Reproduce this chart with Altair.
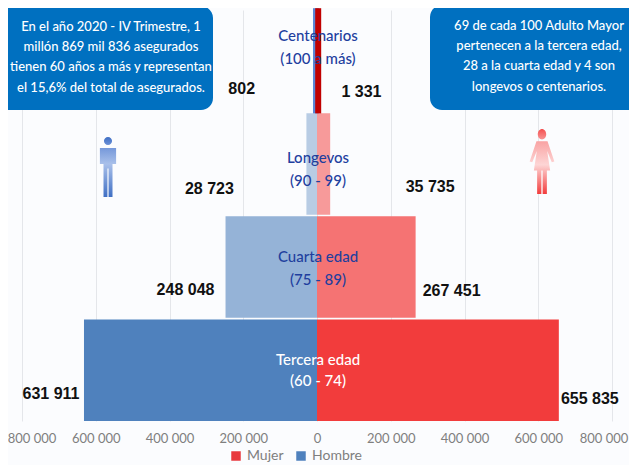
import altair as alt
import pandas as pd

groups = ["Centenarios", "Longevos", "Cuarta edad", "Tercera edad"]
ranges = ["(100 a más)", "(90 - 99)", "(75 - 89)", "(60 - 74)"]
hombre = [802, 28723, 248048, 631911]
mujer = [1331, 35735, 267451, 655835]
hombre_txt = ["802", "28 723", "248 048", "631 911"]
mujer_txt = ["1 331", "35 735", "267 451", "655 835"]
hombre_col = ["#5b86d6", "#b8cce4", "#95b3d7", "#4f81bd"]
mujer_col = ["#c00000", "#f79a9a", "#f57373", "#f23c3c"]
left_lines = ["En el año 2020 - IV Trimestre, 1", "millón 869 mil 836 asegurados",
              "tienen 60 años a más y representan", "el 15,6% del total de asegurados."]
right_lines = ["69 de cada 100 Adulto Mayor", "pertenecen a la tercera edad,",
               "28 a la cuarta edad y 4 son", "longevos o centenarios."]
ticks = [-800000, -600000, -400000, -200000, 0, 200000, 400000, 600000, 800000]
end_ticks = ["800 000", "800 000"]

XS = alt.Scale(domain=[-800000, 800000], nice=False, zero=False)
YS = alt.Scale(domain=groups, paddingInner=0.015, paddingOuter=0.0)
Y = alt.Y("g:N", scale=YS, axis=None, title=None)

OX, OY = 22, 10   # page position of the plot origin

axis_layer = alt.Chart(pd.DataFrame({"v": ticks})).mark_rule(opacity=0).encode(
    x=alt.X("v:Q", scale=XS, title=None, axis=alt.Axis(
        values=ticks, grid=True, gridColor="#e4e6ea", gridWidth=1, domain=False, ticks=False,
        labelFont="Lato", labelFontSize=13, labelColor="#7f7f7f", labelPadding=11, labelOverlap=False,
        labelExpr="abs(datum.value) == 800000 ? '' : replace(format(abs(datum.value), ','), ',', ' ')")),
)

def bars(vals, cols):
    return pd.DataFrame({"g": groups, "v": vals, "c": cols})

hb = alt.Chart(bars([-v for v in hombre], hombre_col))
mb = alt.Chart(bars(mujer, mujer_col))
enc = dict(x=alt.X("v:Q", scale=XS), x2=alt.X2(datum=0), y=Y,
           fill=alt.Fill("c:N", scale=None, legend=None))
big = alt.datum.g != groups[0]
hbar = hb.transform_filter(big).mark_bar().encode(**enc)
mbar = mb.transform_filter(big).mark_bar().encode(**enc)
# the smallest group is under one pixel wide: an outline keeps it visible, as in the source
hthin = hb.transform_filter(alt.datum.g == groups[0]).mark_bar(
    xOffset=-1.9, stroke=hombre_col[0], strokeWidth=3.6).encode(**enc)
mthin = mb.transform_filter(alt.datum.g == groups[0]).mark_bar(
    xOffset=1.9, stroke=mujer_col[0], strokeWidth=3.6).encode(**enc)

layers = [axis_layer, hbar, mbar, hthin, mthin]

# outermost tick labels, nudged inward so that they stay whole on the page
for v, t, dx in zip([-800000, 800000], end_ticks, [10, -8]):
    layers.append(
        alt.Chart(pd.DataFrame({"v": [v], "t": [t]}))
        .mark_text(font="Lato", fontSize=13, color="#7f7f7f", dx=dx)
        .encode(x=alt.X("v:Q", scale=XS), y=alt.value(439 - OY), text="t:N")
    )

# category labels
cat_dy = [[-25, -2], [-6, 17], [-10, 13], [-10, 11]]
cat_col = ["#1f3f9e", "#1f3f9e", "#1f3f9e", "#ffffff"]
for i, g in enumerate(groups):
    for txt, dy in zip([g, ranges[i]], cat_dy[i]):
        layers.append(
            alt.Chart(pd.DataFrame({"g": [g], "v": [0], "t": [txt]}))
            .mark_text(font="Lato", fontSize=15, fontWeight=500, color=cat_col[i], dy=dy, dx=1)
            .encode(x=alt.X("v:Q", scale=XS), y=Y, text="t:N")
        )

# value labels
h_off = [(-75, 28), (-97, 25), (-40, 23), (-33, 24)]
m_off = [(44, 31), (100, 23), (36, 24), (31, 29)]
for vals, txts, offs in [([-v for v in hombre], hombre_txt, h_off), (mujer, mujer_txt, m_off)]:
    for g, v, t, (dx, dy) in zip(groups, vals, txts, offs):
        layers.append(
            alt.Chart(pd.DataFrame({"g": [g], "v": [v], "t": [t]}))
            .mark_text(font="Liberation Sans", fontWeight="bold", fontSize=16, color="#111111", dx=dx, dy=dy)
            .encode(x=alt.X("v:Q", scale=XS), y=Y, text="t:N")
        )

# callout boxes
def box(x0, x1, y0, y1):
    return alt.Chart(pd.DataFrame({"a": [1]})).mark_rect(cornerRadius=12, color="#0070c0").encode(
        x=alt.value(x0 - OX), x2=alt.value(x1 - OX), y=alt.value(y0 - OY), y2=alt.value(y1 - OY))

layers.append(box(-20, 213, 6, 110))
layers.append(box(430, 660, 5, 110))

def box_text(lines, cx, y0):
    out = []
    for i, t in enumerate(lines):
        out.append(alt.Chart(pd.DataFrame({"t": [t]})).mark_text(
            font="Lato", fontSize=13, fontWeight=500, color="#ffffff").encode(
            x=alt.value(cx - OX), y=alt.value(y0 + i * 20.2 - OY), text="t:N"))
    return out

layers += box_text(left_lines, 111, 27)
layers += box_text(right_lines, 539, 26)

# person icons
male = ("M0,-1 A0.135,0.135 0 1 1 0,-0.73 A0.135,0.135 0 1 1 0,-1 Z "
        "M-0.27,-0.63 L0.27,-0.63 L0.27,-0.1 L0.15,-0.1 L0.15,1 L0.02,1 L0.02,0.05 L-0.02,0.05 "
        "L-0.02,1 L-0.15,1 L-0.15,-0.1 L-0.27,-0.1 Z")
female = ("M0,-1 A0.13,0.16 0 1 1 0,-0.68 A0.13,0.16 0 1 1 0,-1 Z "
          "M-0.17,-0.62 L0.17,-0.62 L0.38,0 L0.3,0.02 L0.16,-0.32 L0.25,0.28 L0.15,0.28 L0.15,1 "
          "L0.02,1 L0.02,0.28 L-0.02,0.28 L-0.02,1 L-0.15,1 L-0.15,0.28 L-0.25,0.28 L-0.16,-0.32 "
          "L-0.3,0.02 L-0.38,0 Z")

def icon(path, size, cx, cy, stops):
    grad = alt.Gradient(gradient="linear", x1=0, x2=0, y1=0, y2=1,
                        stops=[alt.GradientStop(offset=o, color=c) for o, c in stops])
    return alt.Chart(pd.DataFrame({"a": [1]})).mark_point(
        shape=path, filled=True, size=size, fill=grad, opacity=1, strokeWidth=0).encode(
        x=alt.value(cx - OX), y=alt.value(cy - OY))

layers.append(icon(male, 3600, 108, 167, [(0, "#3f6fc4"), (0.15, "#6f93d8"), (0.45, "#a9c0ea"), (1, "#3f6fc4")]))
layers.append(icon(female, 4225, 542, 161.5, [(0, "#f45050"), (0.2, "#f9a5a5"), (0.55, "#fdd5d5"), (1, "#f23c3c")]))

# legend
leg = alt.Chart(pd.DataFrame({"s": ["Mujer", "Hombre"], "v": [0, 0]})).mark_point(
    opacity=0, filled=True).encode(
    x=alt.X("v:Q", scale=XS),
    color=alt.Color("s:N", sort=["Mujer", "Hombre"],
                    scale=alt.Scale(domain=["Mujer", "Hombre"], range=["#e8383d", "#4f81bd"]),
                    legend=alt.Legend(orient="none", direction="horizontal", legendX=207, legendY=439,
                                      title=None, symbolType="square", symbolSize=90, symbolOpacity=1,
                                      labelFont="Lato", labelFontSize=14, labelColor="#7f7f7f",
                                      columnPadding=10, labelOffset=4)),
)
layers.append(leg)

chart = alt.layer(*layers).resolve_scale(fill="independent").properties(
    width=590, height=411,
    padding={"left": 14, "top": 2, "right": 17, "bottom": 44},
    autosize=alt.AutoSizeParams(type="none"),
    background="#fbfcfe",
).configure_view(stroke=None)

chart.save("out.html", embed_options={"renderer": "svg", "actions": False})
